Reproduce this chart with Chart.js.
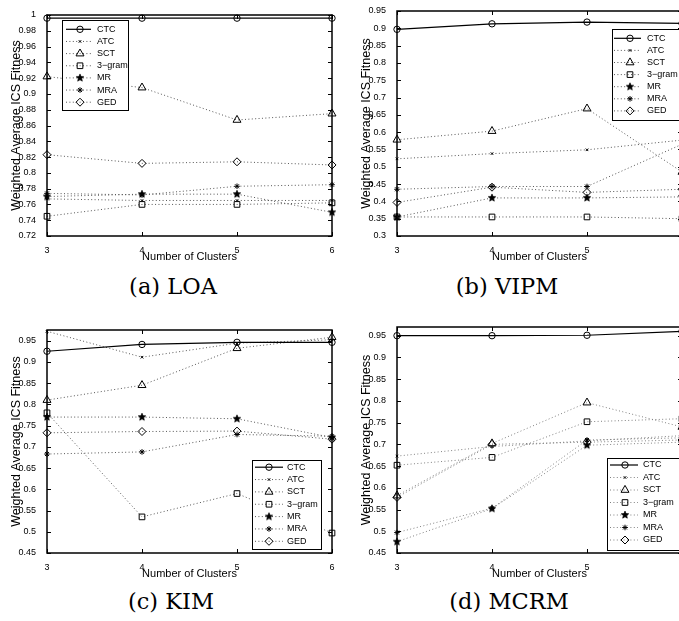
<!DOCTYPE html>
<html>
<head>
<meta charset="utf-8">
<script src="https://cdn.jsdelivr.net/npm/chart.js@4.4.1/dist/chart.umd.min.js"></script>
<style>
  html, body { margin: 0; padding: 0; background: #fff; overflow: hidden; width: 679px; height: 621px; }
  canvas { position: absolute; }
  .cap { position: absolute; font-family: "DejaVu Serif", "Liberation Serif", serif; font-size: 22.5px; color: #000; transform: translate(-50%, -50%); white-space: nowrap; }
</style>
</head>
<body>
<canvas id="loa" width="340" height="270" style="left:0;top:0"></canvas>
<canvas id="vipm" width="340" height="270" style="left:350px;top:0"></canvas>
<canvas id="kim" width="340" height="269" style="left:0;top:318px"></canvas>
<canvas id="mcrm" width="340" height="269" style="left:350px;top:318px"></canvas>
<div class="cap" style="left:173px;top:286px">(a) LOA</div>
<div class="cap" style="left:507px;top:286px">(b) VIPM</div>
<div class="cap" style="left:171px;top:601px">(c) KIM</div>
<div class="cap" style="left:509px;top:601px">(d) MCRM</div>
<script>
// data
const clusters = ['3', '4', '5', '6'];
const methods = ['CTC', 'ATC', 'SCT', '3−gram', 'MR', 'MRA', 'GED'];

const loaCTC   = [0.996, 0.996, 0.996, 0.996];
const loaATC   = [0.767, 0.765, 0.765, 0.765];
const loaSCT   = [0.922, 0.908, 0.867, 0.875];
const loaGram  = [0.745, 0.760, 0.760, 0.762];
const loaMR    = [0.770, 0.773, 0.773, 0.750];
const loaMRA   = [0.774, 0.772, 0.783, 0.785];
const loaGED   = [0.823, 0.812, 0.814, 0.810];
const loaRange = [0.72, 1];
const loaTicks = [0.72, 0.74, 0.76, 0.78, 0.8, 0.82, 0.84, 0.86, 0.88, 0.9, 0.92, 0.94, 0.96, 0.98, 1];

const vipmCTC   = [0.897, 0.913, 0.918, 0.914];
const vipmATC   = [0.523, 0.538, 0.549, 0.577];
const vipmSCT   = [0.578, 0.603, 0.668, 0.485];
const vipmGram  = [0.355, 0.355, 0.355, 0.350];
const vipmMR    = [0.355, 0.410, 0.410, 0.413];
const vipmMRA   = [0.435, 0.443, 0.443, 0.565];
const vipmGED   = [0.397, 0.441, 0.426, 0.435];
const vipmRange = [0.3, 0.95];
const vipmTicks = [0.3, 0.35, 0.4, 0.45, 0.5, 0.55, 0.6, 0.65, 0.7, 0.75, 0.8, 0.85, 0.9, 0.95];

const kimCTC   = [0.925, 0.941, 0.946, 0.946];
const kimATC   = [0.972, 0.911, 0.944, 0.952];
const kimSCT   = [0.810, 0.845, 0.932, 0.958];
const kimGram  = [0.780, 0.535, 0.590, 0.497];
const kimMR    = [0.770, 0.770, 0.766, 0.722];
const kimMRA   = [0.683, 0.688, 0.729, 0.725];
const kimGED   = [0.733, 0.736, 0.737, 0.718];
const kimRange = [0.45, 0.975];
const kimTicks = [0.45, 0.5, 0.55, 0.6, 0.65, 0.7, 0.75, 0.8, 0.85, 0.9, 0.95];

const mcrmCTC   = [0.950, 0.950, 0.951, 0.960];
const mcrmATC   = [0.673, 0.695, 0.708, 0.720];
const mcrmSCT   = [0.582, 0.702, 0.796, 0.740];
const mcrmGram  = [0.652, 0.670, 0.752, 0.759];
const mcrmMR    = [0.476, 0.552, 0.698, 0.705];
const mcrmMRA   = [0.497, 0.553, 0.710, 0.715];
const mcrmGED   = [0.578, 0.700, 0.705, 0.710];
const mcrmRange = [0.45, 0.97];
const mcrmTicks = [0.45, 0.5, 0.55, 0.6, 0.65, 0.7, 0.75, 0.8, 0.85, 0.9, 0.95];

Chart.defaults.font.family = '"Liberation Sans", Arial, sans-serif';
Chart.defaults.font.size = 9;
Chart.defaults.color = '#000';

// matlab style pentagram marker
function pentagram(r) {
  const c = document.createElement('canvas');
  const s = Math.ceil(r * 2 + 2);
  c.width = s; c.height = s;
  const g = c.getContext('2d');
  g.beginPath();
  for (let i = 0; i < 10; i++) {
    const a = -Math.PI / 2 + i * Math.PI / 5;
    const rr = i % 2 ? r * 0.45 : r;
    g.lineTo(s / 2 + rr * Math.cos(a), s / 2 + rr * Math.sin(a));
  }
  g.closePath();
  g.fillStyle = '#000';
  g.fill();
  g.strokeStyle = '#000';
  g.lineWidth = 0.7;
  g.stroke();
  return c;
}
const starImg = pentagram(3.9);

const styles = [
  { pointStyle: 'circle', pointRadius: 3.2, solid: true },
  { pointStyle: 'crossRot', pointRadius: 1.8 },
  { pointStyle: 'triangle', pointRadius: 4.6 },
  { pointStyle: 'rect', pointRadius: 4 },
  { pointStyle: starImg, pointRadius: 3.9 },
  { pointStyle: 'star', pointRadius: 2.8 },
  { pointStyle: 'rectRot', pointRadius: 4 }
];

function makeSets(series, dotColor) {
  return series.map((vals, i) => ({
    label: methods[i],
    data: vals,
    borderColor: styles[i].solid ? '#000' : dotColor,
    borderWidth: styles[i].solid ? 1.2 : 1,
    borderDash: styles[i].solid ? [] : [1, 2.4],
    pointStyle: styles[i].pointStyle,
    pointRadius: styles[i].pointRadius,
    pointBorderColor: '#000',
    pointBackgroundColor: 'rgba(0,0,0,0)',
    pointBorderWidth: 1,
    tension: 0,
    clip: false
  }));
}

const axesBox = {
  id: 'axesBox',
  afterDatasetsDraw(chart) {
    const { ctx, chartArea: a, scales: { x, y } } = chart;
    ctx.save();
    ctx.strokeStyle = '#000';
    ctx.lineWidth = 1;
    ctx.beginPath();
    y.ticks.forEach(t => {
      const py = Math.round(y.getPixelForValue(t.value)) + 0.5;
      ctx.moveTo(a.left, py); ctx.lineTo(a.left + 4, py);
      ctx.moveTo(a.right, py); ctx.lineTo(a.right - 4, py);
    });
    x.ticks.forEach((t, i) => {
      const px = Math.round(x.getPixelForTick(i)) + 0.5;
      ctx.moveTo(px, a.bottom); ctx.lineTo(px, a.bottom - 4);
      ctx.moveTo(px, a.top); ctx.lineTo(px, a.top + 4);
    });
    ctx.stroke();
    ctx.lineWidth = 1.5;
    ctx.strokeRect(a.left, a.top, a.right - a.left, a.bottom - a.top);
    ctx.restore();
  }
};

const boxLegend = {
  id: 'boxLegend',
  afterDraw(chart, args, o) {
    const ctx = chart.ctx;
    ctx.save();
    ctx.fillStyle = '#fff';
    ctx.fillRect(o.x, o.y, o.w, o.h);
    ctx.strokeStyle = '#000';
    ctx.lineWidth = 1;
    ctx.strokeRect(o.x + 0.5, o.y + 0.5, o.w, o.h);
    chart.data.datasets.forEach((ds, i) => {
      const yy = o.y + o.first + i * o.row;
      ctx.beginPath();
      ctx.setLineDash(ds.borderDash);
      ctx.strokeStyle = ds.borderColor;
      ctx.lineWidth = ds.borderWidth;
      ctx.moveTo(o.x + o.l0, yy);
      ctx.lineTo(o.x + o.l1, yy);
      ctx.stroke();
      ctx.setLineDash([]);
      ctx.strokeStyle = '#000';
      ctx.fillStyle = ds.pointBackgroundColor;
      ctx.lineWidth = 1;
      Chart.helpers.drawPoint(ctx, { pointStyle: ds.pointStyle, radius: ds.pointRadius, rotation: 0, borderWidth: 1 }, o.x + o.m, yy);
      ctx.fillStyle = '#000';
      ctx.font = '9px "Liberation Sans", Arial, sans-serif';
      ctx.textBaseline = 'middle';
      ctx.fillText(ds.label, o.x + o.t, yy);
    });
    ctx.restore();
  }
};

function panel(id, series, range, ticks, padTop, dotColor, legend) {
  new Chart(document.getElementById(id), {
    type: 'line',
    data: { labels: clusters, datasets: makeSets(series, dotColor) },
    options: {
      responsive: false,
      animation: false,
      layout: { padding: { top: padTop, right: 8, left: 0, bottom: 0 } },
      plugins: { legend: { display: false }, tooltip: { enabled: false }, boxLegend: legend },
      scales: {
        x: {
          offset: false,
          grid: { display: false },
          border: { display: false },
          ticks: { padding: 1, autoSkip: false, maxRotation: 0 },
          title: { display: true, text: 'Number of Clusters', font: { size: 11 }, padding: { top: 6, bottom: 6 } },
          afterFit: s => { s.height = 34; }
        },
        y: {
          min: range[0],
          max: range[1],
          grid: { display: false },
          border: { display: false },
          afterBuildTicks: s => { s.ticks = ticks.map(v => ({ value: v })); },
          ticks: { padding: 3, callback: v => String(Number(v.toFixed(3))) },
          title: { display: true, text: 'Weighted Average ICS Fitness', font: { size: 12.5 }, padding: { top: 9, bottom: 9 } },
          afterFit: s => { s.width = 47; }
        }
      }
    },
    plugins: [axesBox, boxLegend]
  });
}

panel('loa', [loaCTC, loaATC, loaSCT, loaGram, loaMR, loaMRA, loaGED], loaRange, loaTicks, 15, '#555',
  { x: 62, y: 20, w: 66, h: 90, first: 9.3, row: 12.15, l0: 4, l1: 29, m: 18, t: 35 });
panel('vipm', [vipmCTC, vipmATC, vipmSCT, vipmGram, vipmMR, vipmMRA, vipmGED], vipmRange, vipmTicks, 11, '#555',
  { x: 262, y: 29, w: 75, h: 91, first: 9.3, row: 12.1, l0: 2, l1: 29, m: 18, t: 35 });
panel('kim', [kimCTC, kimATC, kimSCT, kimGram, kimMR, kimMRA, kimGED], kimRange, kimTicks, 12, '#555',
  { x: 252, y: 142, w: 69, h: 89, first: 7.2, row: 12.35, l0: 3, l1: 31, m: 17, t: 35 });
panel('mcrm', [mcrmCTC, mcrmATC, mcrmSCT, mcrmGram, mcrmMR, mcrmMRA, mcrmGED], mcrmRange, mcrmTicks, 9, '#808080',
  { x: 257, y: 140, w: 80, h: 92, first: 7, row: 12.5, l0: 3, l1: 31, m: 18, t: 36 });
</script>
</body>
</html>
